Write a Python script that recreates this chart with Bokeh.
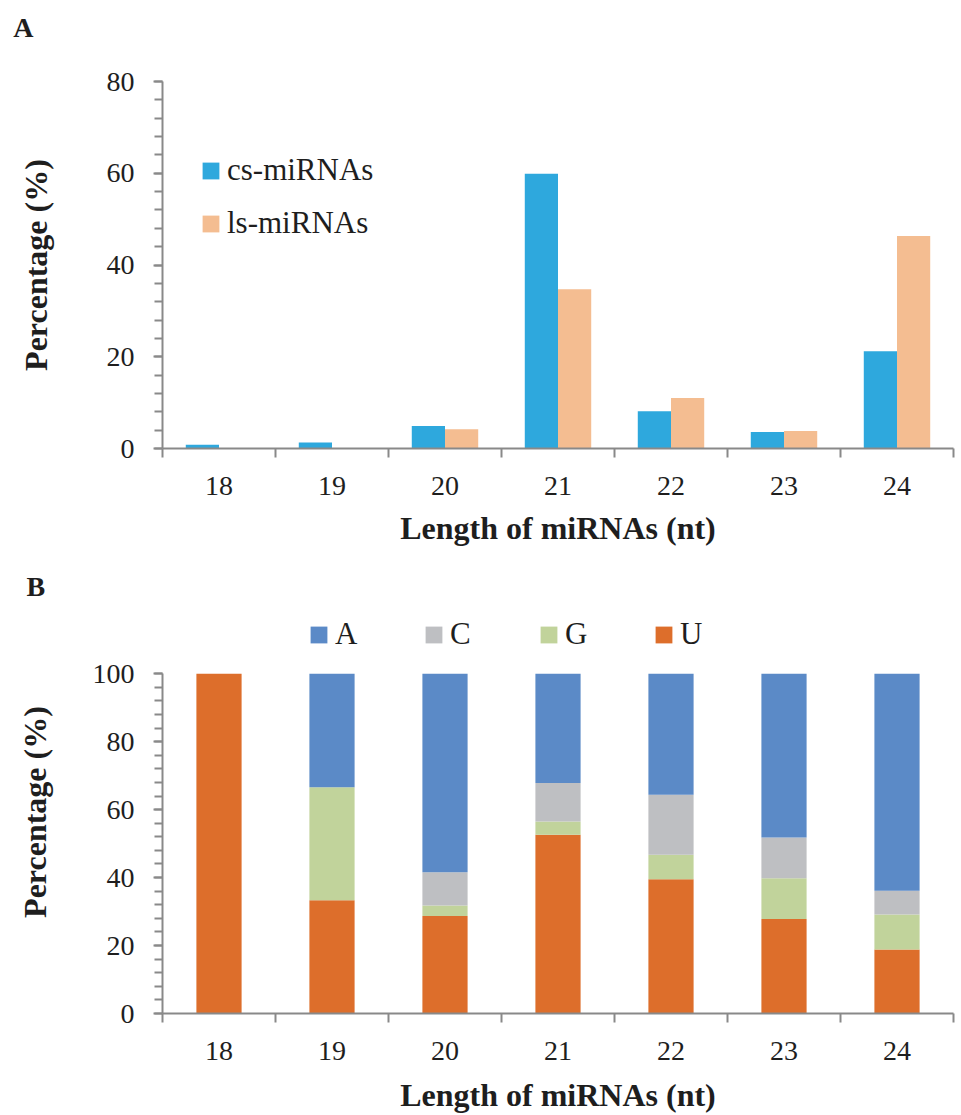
import numpy as np
from bokeh.plotting import figure
from bokeh.layouts import column
from bokeh.models import (Range1d, FixedTicker, SingleIntervalTicker, Legend,
                          LegendItem, ColumnDataSource, Title)
from bokeh.transform import dodge
from bokeh.embed import file_html
from bokeh.resources import INLINE

# ---------------- data ----------------
lengths = ["18", "19", "20", "21", "22", "23", "24"]
cs_mirnas = [0.8, 1.3, 4.9, 59.9, 8.1, 3.6, 21.2]
ls_mirnas = [0.0, 0.0, 4.2, 34.7, 11.0, 3.8, 46.3]

base_A = [0.0, 33.4, 58.4, 32.2, 35.6, 48.2, 63.9]
base_C = [0.0, 0.0, 9.8, 11.3, 17.7, 12.0, 7.0]
base_G = [0.0, 33.3, 3.1, 3.9, 7.2, 12.0, 10.3]
base_U = [100.0, 33.3, 28.7, 52.6, 39.5, 27.8, 18.8]

series_ab = ["cs-miRNAs", "ls-miRNAs"]
bases = ["A", "C", "G", "U"]
panel_letters = ["A", "B"]

# ---------------- style ----------------
FONT = "Liberation Serif"
AXIS_GREY = "#898989"
TXT = "#1e1e1e"
C_CS, C_LS = "#2EA8DD", "#F4BD91"
C_BASE = {"A": "#5B8AC7", "C": "#BEBFC2", "G": "#C1D39B", "U": "#DD6E2B"}
LEFT = 162

n = len(lengths)
xpos = list(np.arange(n) + 0.5)
overrides = {float(x): lab for x, lab in zip(xpos, lengths)}


def style_axes(p, ybounds, xlab_standoff, ylab_standoff):
    xa = p.xaxis[0]
    xa.ticker = FixedTicker(ticks=xpos, minor_ticks=list(range(n + 1)))
    xa.major_label_overrides = overrides
    xa.major_tick_line_color = None
    xa.major_tick_out = 0
    xa.major_tick_in = 0
    xa.minor_tick_out = 9
    xa.minor_tick_in = 0
    xa.minor_tick_line_color = AXIS_GREY
    xa.minor_tick_line_width = 2
    xa.major_label_standoff = 19
    xa.axis_label = "Length of miRNAs (nt)"
    xa.axis_label_standoff = xlab_standoff

    ya = p.yaxis[0]
    ya.ticker = SingleIntervalTicker(interval=20, num_minor_ticks=5)
    ya.bounds = ybounds
    ya.major_tick_out = 9
    ya.major_tick_in = 0
    ya.minor_tick_out = 8
    ya.minor_tick_in = 0
    ya.major_tick_line_color = AXIS_GREY
    ya.minor_tick_line_color = AXIS_GREY
    ya.major_tick_line_width = 2
    ya.minor_tick_line_width = 2
    ya.major_label_standoff = 19
    ya.axis_label = "Percentage (%)"
    ya.axis_label_standoff = ylab_standoff

    for ax in (xa, ya):
        ax.axis_line_color = AXIS_GREY
        ax.axis_line_width = 2
        ax.major_label_text_font = FONT
        ax.major_label_text_font_size = "28px"
        ax.major_label_text_color = TXT
        ax.axis_label_text_font = FONT
        ax.axis_label_text_font_size = "32px"
        ax.axis_label_text_font_style = "bold"
        ax.axis_label_text_color = TXT

    p.xgrid.visible = False
    p.ygrid.visible = False
    p.outline_line_color = None
    p.background_fill_color = "white"
    p.border_fill_color = "white"


def letter_title(letter, offset, standoff):
    return Title(text=letter, align="left", vertical_align="bottom",
                 offset=offset, standoff=standoff, text_font=FONT,
                 text_font_size="28px", text_font_style="bold", text_color=TXT)


# ---------------- panel A ----------------
src_a = ColumnDataSource(dict(x=xpos, cs=cs_mirnas, ls=ls_mirnas))
pa = figure(width=961, height=556, output_backend="svg", toolbar_location=None,
            x_range=Range1d(0, n), y_range=Range1d(0, 80),
            min_border_left=LEFT, min_border_right=8, min_border_top=81,
            min_border_bottom=108)
bw = 0.294
ra1 = pa.vbar(x=dodge("x", -bw / 2), top="cs", width=bw, source=src_a,
              fill_color=C_CS, line_color=None)
ra2 = pa.vbar(x=dodge("x", bw / 2), top="ls", width=bw, source=src_a,
              fill_color=C_LS, line_color=None)
style_axes(pa, (0, 80), 12, 50)
pa.title.visible = False
# white (invisible on white) spacer next to the frame, then the panel letter
pa.add_layout(Title(text=".", text_font_size="10px", text_color="white",
                    standoff=29), "above")
pa.add_layout(letter_title(panel_letters[0], 12.7 - LEFT, 0), "above")

leg_a = Legend(items=[LegendItem(label=series_ab[0], renderers=[ra1]),
                      LegendItem(label=series_ab[1], renderers=[ra2])],
               location=(38, 205), orientation="vertical",
               glyph_width=21, glyph_height=21, label_standoff=6,
               label_height=40, spacing=13, padding=0,
               border_line_color=None, background_fill_alpha=0,
               label_text_font=FONT, label_text_font_size="31px",
               label_text_color=TXT)
pa.add_layout(leg_a)

# ---------------- panel B ----------------
src_b = ColumnDataSource(dict(x=xpos, A=base_A, C=base_C, G=base_G, U=base_U))
pb = figure(width=961, height=559, output_backend="svg", toolbar_location=None,
            x_range=Range1d(0, n), y_range=Range1d(0, 118.6),
            min_border_left=LEFT, min_border_right=7, min_border_top=54,
            min_border_bottom=101)
stack_order = ["U", "G", "C", "A"]
rs = pb.vbar_stack(stack_order, x="x", width=0.4, source=src_b,
                   color=[C_BASE[b] for b in stack_order], line_color=None)
rmap = dict(zip(stack_order, rs))
style_axes(pb, (0, 100), 14, 37)
pb.title.visible = False
pb.add_layout(letter_title(panel_letters[1], 26 - LEFT, 17), "above")

leg_b = Legend(items=[LegendItem(label=b, renderers=[rmap[b]]) for b in bases],
               location=(146, 359), orientation="horizontal",
               glyph_width=21, glyph_height=21, label_standoff=6,
               label_width=88, label_height=40, spacing=0, padding=0,
               border_line_color=None, background_fill_alpha=0,
               label_text_font=FONT, label_text_font_size="31px",
               label_text_color=TXT)
pb.add_layout(leg_b)

layout = column(pa, pb, spacing=0)
open("out.html", "w").write(file_html(layout, INLINE))
